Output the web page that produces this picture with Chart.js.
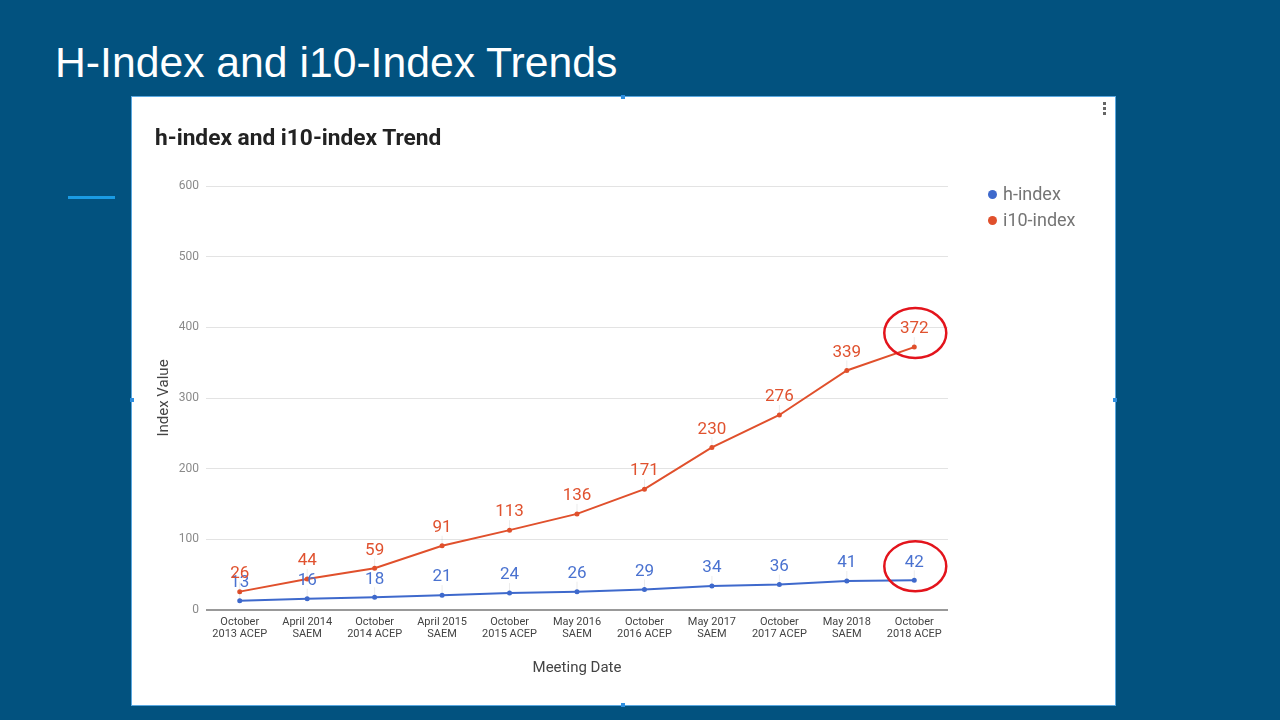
<!DOCTYPE html>
<html>
<head>
<meta charset="utf-8">
<script src="https://cdn.jsdelivr.net/npm/chart.js@4"></script>
<style>
  body { margin: 0; width: 1280px; height: 720px; background: #02527f; overflow: hidden; position: relative; font-family: Roboto, "Noto Sans", sans-serif; }
  #slideTitle { position: absolute; left: 55px; top: 38px; color: #fff; font: 42.7px "Liberation Sans", Arial, sans-serif; }
  #accent { position: absolute; left: 68px; top: 196px; width: 47px; height: 3px; background: #1a9be3; }
  #panel { position: absolute; left: 132px; top: 97px; width: 983px; height: 608px; background: #fff; box-shadow: 0 0 0 1px #5aa8e0; }
  .handle { position: absolute; width: 4px; height: 4px; background: #2f8fe0; }
  #chartTitle { position: absolute; left: 23px; top: 27px; font-weight: bold; font-size: 22.7px; color: #222; }
  #legend { position: absolute; left: 856px; top: 84px; font-size: 18px; color: #757575; line-height: 26px; }
  #legend span.dot { display: inline-block; width: 9px; height: 9px; border-radius: 50%; margin-right: 6px; vertical-align: 1px; }
  #kebab { position: absolute; left: 971px; top: 5px; width: 3px; }
  #kebab i { display: block; width: 3px; height: 3px; background: #666; margin-bottom: 2px; }
  canvas { position: absolute; left: 0; top: 0; }
</style>
</head>
<body>
<div id="slideTitle">H-Index and i10-Index Trends</div>
<div id="accent"></div>
<div id="panel">
  <canvas id="myChart" width="983" height="608"></canvas>
  <div id="chartTitle">h-index and i10-index Trend</div>
  <div id="legend">
    <div><span class="dot" style="background:#3e69cc"></span>h-index</div>
    <div><span class="dot" style="background:#e0502c"></span>i10-index</div>
  </div>
  <div id="kebab"><i></i><i></i><i></i></div>
</div>
<div class="handle" style="left:621px;top:95px"></div>
<div class="handle" style="left:130px;top:398px"></div>
<div class="handle" style="left:1113px;top:398px"></div>
<div class="handle" style="left:621px;top:703px"></div>

<script>
// Meetings on the x axis
const meetings = [
  ['October', '2013 ACEP'], ['April 2014', 'SAEM'], ['October', '2014 ACEP'],
  ['April 2015', 'SAEM'], ['October', '2015 ACEP'], ['May 2016', 'SAEM'],
  ['October', '2016 ACEP'], ['May 2017', 'SAEM'], ['October', '2017 ACEP'],
  ['May 2018', 'SAEM'], ['October', '2018 ACEP']
];
const hIndex = [13, 16, 18, 21, 24, 26, 29, 34, 36, 41, 42];
const i10Index = [26, 44, 59, 91, 113, 136, 171, 230, 276, 339, 372];
const yTicks = [0, 100, 200, 300, 400, 500, 600];

const blue = '#3e69cc';
const red = '#e0502c';

// value labels above each point, with a faint stem
const valueLabels = {
  id: 'valueLabels',
  afterDatasetsDraw(chart) {
    const ctx = chart.ctx;
    ctx.save();
    ctx.font = '17px Roboto';
    ctx.textAlign = 'center';
    ctx.textBaseline = 'middle';
    chart.data.datasets.forEach((ds, i) => {
      chart.getDatasetMeta(i).data.forEach((pt, j) => {
        ctx.strokeStyle = 'rgba(0,0,0,0.08)';
        ctx.lineWidth = 1;
        ctx.beginPath();
        ctx.moveTo(pt.x, pt.y - 2);
        ctx.lineTo(pt.x, pt.y - 10);
        ctx.stroke();
        ctx.fillStyle = ds.labelColor;
        ctx.fillText(ds.data[j], pt.x, pt.y - 18);
      });
    });
    ctx.restore();
  }
};

// red hand-drawn style circles around the last values
const lastCircles = {
  id: 'lastCircles',
  afterDraw(chart) {
    const ctx = chart.ctx;
    ctx.save();
    ctx.strokeStyle = '#e3141c';
    ctx.lineWidth = 2.5;
    chart.data.datasets.forEach((ds, i) => {
      const pts = chart.getDatasetMeta(i).data;
      const pt = pts[pts.length - 1];
      ctx.beginPath();
      ctx.ellipse(pt.x + 1, pt.y - 14, 31, 25, 0, 0, Math.PI * 2);
      ctx.stroke();
    });
    ctx.restore();
  }
};

const ctx = document.getElementById('myChart').getContext('2d');
new Chart(ctx, {
  type: 'line',
  data: {
    labels: meetings,
    datasets: [
      { label: 'h-index', data: hIndex, borderColor: blue, backgroundColor: blue, labelColor: '#4a72d0',
        borderWidth: 2, pointRadius: 1.5, tension: 0 },
      { label: 'i10-index', data: i10Index, borderColor: red, backgroundColor: red, labelColor: '#e0522f',
        borderWidth: 2, pointRadius: 1.5, tension: 0 }
    ]
  },
  options: {
    responsive: false,
    animation: false,
    layout: { padding: { left: 10, right: 167, top: 89, bottom: 0 } },
    plugins: { legend: { display: false }, tooltip: { enabled: false } },
    scales: {
      x: {
        offset: true,
        grid: { display: false },
        border: { display: false },
        ticks: { color: '#444', font: { family: 'Roboto', size: 11, lineHeight: 1.1 }, padding: -2, maxRotation: 0, autoSkip: false },
        title: { display: true, text: 'Meeting Date', color: '#444', font: { family: 'Roboto', size: 15 }, padding: { top: 0, bottom: 28 } },
        afterFit(scale) { scale.height = 95; }
      },
      y: {
        min: 0,
        max: 600,
        afterBuildTicks(scale) { scale.ticks = yTicks.map(v => ({ value: v })); },
        grid: {
          drawTicks: false,
          color: c => c.tick && c.tick.value === 0 ? '#999' : '#e3e3e3',
          lineWidth: c => c.tick && c.tick.value === 0 ? 2 : 1
        },
        border: { display: false },
        ticks: { color: '#8a8a8a', font: { family: 'Roboto', size: 12 }, padding: 7 },
        title: { display: true, text: 'Index Value', color: '#444', font: { family: 'Roboto', size: 15 }, padding: { top: 13, bottom: 0 } },
        afterFit(scale) { scale.width = 64; }
      }
    }
  },
  plugins: [valueLabels, lastCircles]
});
</script>
</body>
</html>
